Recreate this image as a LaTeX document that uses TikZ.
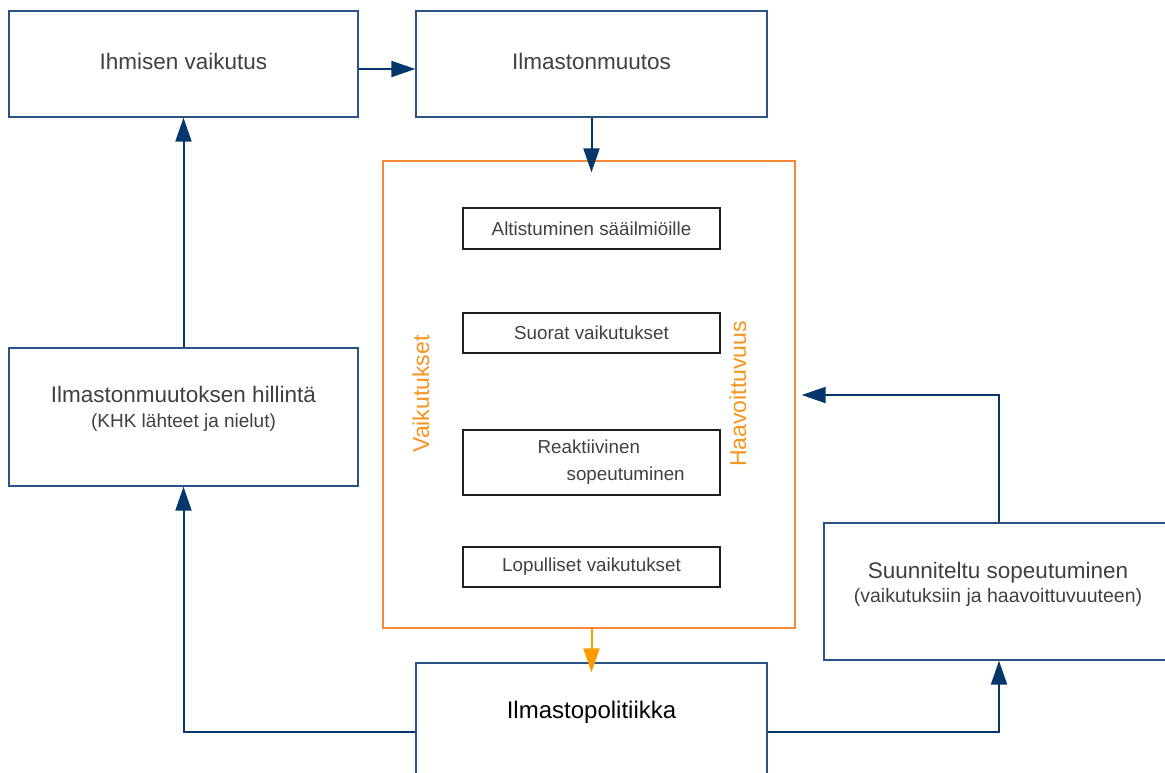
\documentclass[tikz,border=0pt]{standalone}
\usepackage{fontspec}
\setmainfont{Liberation Sans}
\usetikzlibrary{arrows.meta}
\definecolor{navy}{HTML}{06376B}
\definecolor{boxblue}{HTML}{2A5286}
\definecolor{orbox}{HTML}{F7883A}
\definecolor{ortext}{HTML}{F7941D}
\definecolor{orarrow}{HTML}{FF9A00}
\definecolor{txt}{HTML}{404040}
\definecolor{sboxc}{HTML}{202020}
\tikzset{
  bigbox/.style={draw=boxblue, line width=1.3pt, minimum width=349pt, inner sep=0pt, text=txt, font=\fontsize{22.5}{27}\selectfont},
  sbox/.style={draw=sboxc, line width=1.2pt, minimum width=257pt, minimum height=40pt, inner sep=0pt, text=txt, font=\fontsize{18.8}{27}\selectfont},
  vlabel/.style={text=ortext, font=\fontsize{23}{27}\selectfont, rotate=90},
  arr/.style={draw=navy, line width=2pt, -{Triangle[length=24pt,width=16pt]}},
  oarr/.style={draw=orarrow, line width=2pt, -{Triangle[length=24pt,width=16pt]}},
}
\begin{document}
\begin{tikzpicture}[x=1pt,y=-1pt]
\useasboundingbox (0,0) rectangle (1165,772);
\clip (0,0) rectangle (1165,772);
% top boxes
\node[bigbox, minimum height=106pt] (ih) at (183.5,64) {};
\node[text=txt, font=\fontsize{22.5}{27}\selectfont] (iht) at (183.5,61) {Ihmisen vaikutus};
\node[bigbox, minimum width=351pt, minimum height=106pt] (im) at (591.5,64) {};
\node[text=txt, font=\fontsize{22.5}{27}\selectfont] (imt) at (591.5,61) {Ilmastonmuutos};
% orange frame
\node[draw=orbox, line width=1.3pt, minimum width=412pt, minimum height=467pt, inner sep=0pt] (or) at (589,394.5) {};
\node[sbox, minimum height=41pt] (alt) at (591.5,228.5) {Altistuminen sääilmiöille};
\node[sbox] (suo) at (591.5,333) {Suorat vaikutukset};
\node[sbox, minimum height=65pt] (rea) at (591.5,462.5) {};
\node[anchor=west, align=left, inner sep=0pt, text=txt, font=\fontsize{18.8}{27}\selectfont] (reat) at ([xshift=75pt]rea.west) {Reaktiivinen\\\hspace*{29pt}sopeutuminen};
\node[sbox] (lop) at (591.5,567) {Lopulliset vaikutukset};
\node[vlabel] (vai) at (421,394) {Vaikutukset};
\node[vlabel] (haa) at (738,394) {Haavoittuvuus};
% left box
\node[bigbox, minimum height=138pt] (hil) at (183.5,417) {};
\node[align=center, text=txt, font=\fontsize{22.5}{27}\selectfont] (hilt) at (183.5,409) {Ilmastonmuutoksen hillintä\\[-2pt]{\fontsize{19}{22}\selectfont (KHK lähteet ja nielut)}};
% right box
\node[bigbox, minimum width=350pt, minimum height=137pt] (su) at (999,591.5) {};
\node[align=center, text=txt, font=\fontsize{22.5}{27}\selectfont] (sut) at (998,584) {Suunniteltu sopeutuminen\\[-3pt]{\fontsize{19.5}{22}\selectfont (vaikutuksiin ja haavoittuvuuteen)}};
% bottom box
\node[bigbox, minimum width=351pt, minimum height=138pt] (pol) at (591.5,732) {};
\node[text=black, font=\fontsize{24}{28}\selectfont] (polt) at (591.5,712) {Ilmastopolitiikka};
% connectors
\draw[arr] ([yshift=-5pt]ih.east) -- ([yshift=-5pt]im.west);
\draw[arr] (im.south) -- ([yshift=-12pt]im.south |- or.north);
\draw[oarr] (or.south -| im.south) -- ([yshift=-10pt]pol.north);
\draw[arr] (hil.north) -- (ih.south);
\draw[arr] (pol.west |- 0,732) -| (hil.south);
\draw[arr] (pol.east |- 0,732) -| (su.south);
\draw[arr] (su.north) |- ([xshift=6pt]or.east |- 0,395);
\end{tikzpicture}
\end{document}
